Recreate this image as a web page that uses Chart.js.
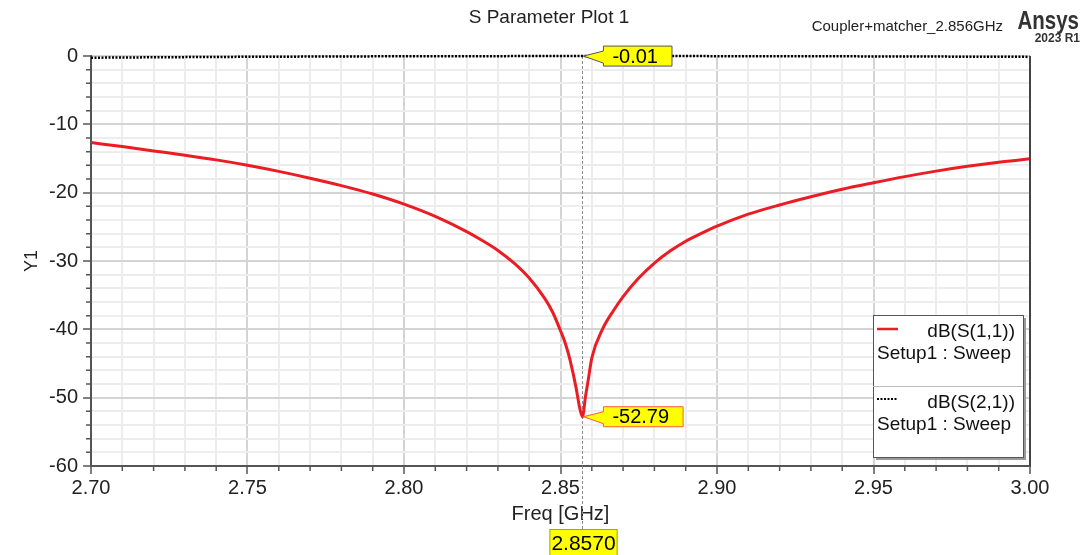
<!DOCTYPE html>
<html>
<head>
<meta charset="utf-8">
<title>S Parameter Plot 1</title>
<script src="https://cdn.jsdelivr.net/npm/chart.js@4.4.1/dist/chart.umd.min.js"></script>
<style>
  html, body { margin: 0; padding: 0; background: #fff; }
  canvas { display: block; }
</style>
</head>
<body>
<canvas id="plot" width="1091" height="555"></canvas>
<script>
const FONT = "Arial, 'Liberation Sans', sans-serif";

// dB(S(1,1))
const freq = [2.70, 2.71, 2.72, 2.73, 2.74, 2.75, 2.76, 2.77, 2.78, 2.79,
              2.80, 2.81, 2.82, 2.825, 2.83, 2.835, 2.84, 2.845, 2.8475, 2.85,
              2.8515, 2.853, 2.855, 2.856, 2.857, 2.858, 2.859, 2.86, 2.8635, 2.867,
              2.87, 2.875, 2.88, 2.885, 2.89, 2.895, 2.90, 2.91, 2.92, 2.93, 2.94,
              2.95, 2.96, 2.97, 2.98, 2.99, 3.00];
const s11 = [-12.67, -13.26, -13.89, -14.52, -15.2, -15.98, -16.88, -17.88, -18.97, -20.2,
             -21.68, -23.48, -25.7, -27.0, -28.45, -30.25, -32.5, -35.5, -37.5, -40.2,
             -42.0, -44.4, -48.6, -51.2, -52.79, -49.8, -47.0, -44.2, -39.9, -37.2,
             -35.2, -32.5, -30.3, -28.55, -27.1, -25.95, -24.9, -23.15, -21.8, -20.6, -19.5,
             -18.55, -17.65, -16.85, -16.15, -15.55, -15.05];

// dB(S(2,1)), hugging 0 dB
const freqS21 = [2.70, 2.72, 2.75, 2.78, 2.80, 2.83, 2.857, 2.88, 2.90, 2.93, 2.95, 2.98, 3.00];
const s21 = [-0.25, -0.19, -0.12, -0.07, -0.04, -0.02, -0.01, -0.01, -0.02, -0.04, -0.06, -0.10, -0.13];

// marker m1
const markerFreq = 2.857;
const markerFreqLabel = "2.8570";
const markerValues = [-0.01, -52.79];
const markerLabels = ["-0.01", "-52.79"];

const seriesNames = ["dB(S(1,1))", "dB(S(2,1))"];
const sweepName = "Setup1 : Sweep";

const isMajorX = v => Math.round(v * 100) % 5 === 0;
const isMajorY = v => Math.round(v) % 10 === 0;

function callout(ctx, px, py, text, border) {
  ctx.font = "20px " + FONT;
  const w = ctx.measureText(text).width + 23;
  const bx = px + 20, by = py - 10, bh = 20;
  ctx.beginPath();
  ctx.moveTo(px, py);
  ctx.lineTo(bx, by + 5);
  ctx.lineTo(bx, by);
  ctx.lineTo(bx + w, by);
  ctx.lineTo(bx + w, by + bh);
  ctx.lineTo(bx, by + bh);
  ctx.lineTo(bx, by + bh - 3);
  ctx.closePath();
  ctx.fillStyle = "#ffff00";
  ctx.fill();
  ctx.lineWidth = 1;
  ctx.strokeStyle = border;
  ctx.stroke();
  ctx.fillStyle = "#000";
  ctx.textAlign = "left";
  ctx.textBaseline = "middle";
  ctx.fillText(text, bx + 9, by + bh / 2 + 1);
}

const decorations = {
  id: "decorations",
  beforeDatasetsDraw(chart) {
    const { ctx, chartArea, scales } = chart;
    const x = Math.round(scales.x.getPixelForValue(markerFreq)) + 0.5;
    ctx.save();
    ctx.strokeStyle = "#8c8c8c";
    ctx.lineWidth = 1;
    ctx.setLineDash([3, 2]);
    ctx.beginPath();
    ctx.moveTo(x, chartArea.top);
    ctx.lineTo(x, 530);
    ctx.stroke();
    ctx.restore();
  },
  afterDatasetsDraw(chart) {
    const { ctx, chartArea, scales } = chart;
    const xs = scales.x, ys = scales.y;
    ctx.save();

    // short minor ticks
    ctx.strokeStyle = "#555";
    ctx.lineWidth = 1.5;
    ctx.beginPath();
    xs.ticks.forEach(t => {
      if (isMajorX(t.value)) return;
      const px = xs.getPixelForValue(t.value);
      ctx.moveTo(px, chartArea.bottom);
      ctx.lineTo(px, chartArea.bottom + 5);
    });
    ys.ticks.forEach(t => {
      if (isMajorY(t.value)) return;
      const py = ys.getPixelForValue(t.value);
      ctx.moveTo(chartArea.left, py);
      ctx.lineTo(chartArea.left - 5, py);
    });
    ctx.stroke();

    // right frame edge
    ctx.strokeStyle = "#444";
    ctx.lineWidth = 2;
    ctx.beginPath();
    ctx.moveTo(chartArea.right, chartArea.top);
    ctx.lineTo(chartArea.right, chartArea.bottom);
    ctx.stroke();

    // marker callouts
    const mx = xs.getPixelForValue(markerFreq);
    callout(ctx, mx + 1, ys.getPixelForValue(markerValues[0]), markerLabels[0], "#555");
    callout(ctx, mx + 1, ys.getPixelForValue(markerValues[1]), markerLabels[1], "#ff5a3c");

    // x marker label under the axis
    ctx.font = "21px " + FONT;
    const tw = ctx.measureText(markerFreqLabel).width;
    ctx.fillStyle = "#ffff00";
    ctx.fillRect(mx - 33, 529, tw + 4, 28);
    ctx.strokeStyle = "#a8a800";
    ctx.lineWidth = 1;
    ctx.strokeRect(mx - 32.5, 529.5, tw + 3, 30);
    ctx.fillStyle = "#000";
    ctx.textAlign = "left";
    ctx.textBaseline = "middle";
    ctx.fillText(markerFreqLabel, mx - 31, 544);

    // legend
    const lx = 873, ly = 315, lw = 150, lh = 142;
    ctx.fillStyle = "#9a9a9a";
    ctx.fillRect(lx + 3, ly + 3, lw, lh);
    ctx.fillStyle = "#fff";
    ctx.fillRect(lx, ly, lw, lh);
    ctx.strokeStyle = "#555";
    ctx.strokeRect(lx + 0.5, ly + 0.5, lw, lh);
    ctx.strokeStyle = "#bdbdbd";
    ctx.beginPath();
    ctx.moveTo(lx, 386.5);
    ctx.lineTo(lx + lw, 386.5);
    ctx.stroke();

    ctx.strokeStyle = chart.data.datasets[0].borderColor;
    ctx.lineWidth = 2.5;
    ctx.beginPath();
    ctx.moveTo(877, 329);
    ctx.lineTo(898, 329);
    ctx.stroke();
    ctx.strokeStyle = "#000";
    ctx.lineWidth = 2;
    ctx.setLineDash([2, 1.5]);
    ctx.beginPath();
    ctx.moveTo(877, 399);
    ctx.lineTo(898, 399);
    ctx.stroke();
    ctx.setLineDash([]);

    ctx.font = "19px " + FONT;
    ctx.fillStyle = "#111";
    ctx.textBaseline = "middle";
    ctx.textAlign = "right";
    ctx.fillText(seriesNames[0], 1015, 332);
    ctx.fillText(seriesNames[1], 1015, 403);
    ctx.textAlign = "left";
    ctx.fillText(sweepName, 877, 354);
    ctx.fillText(sweepName, 877, 425);

    // header texts
    ctx.fillStyle = "#222";
    ctx.textAlign = "center";
    ctx.font = "19px " + FONT;
    ctx.fillText("S Parameter Plot 1", 549, 18);
    ctx.textAlign = "right";
    ctx.font = "15px " + FONT;
    ctx.fillText("Coupler+matcher_2.856GHz", 1003, 27);
    ctx.save();
    ctx.translate(1079, 22);
    ctx.scale(0.82, 1);
    ctx.font = "bold 25px " + FONT;
    ctx.fillStyle = "#333";
    ctx.fillText("Ansys", 0, 0);
    ctx.restore();
    ctx.font = "bold 12px " + FONT;
    ctx.fillStyle = "#333";
    ctx.fillText("2023 R1", 1080, 39);

    ctx.restore();
  }
};

new Chart(document.getElementById("plot"), {
  type: "line",
  data: {
    datasets: [
      {
        label: seriesNames[0],
        data: freq.map((f, i) => ({ x: f, y: s11[i] })),
        borderColor: "rgb(235,28,36)",
        borderWidth: 3,
        pointRadius: 0,
        tension: 0.4,
        cubicInterpolationMode: "monotone"
      },
      {
        label: seriesNames[1],
        data: freqS21.map((f, i) => ({ x: f, y: s21[i] })),
        borderColor: "#000",
        borderWidth: 2.5,
        borderDash: [2, 1.5],
        pointRadius: 0,
        tension: 0.4,
        cubicInterpolationMode: "monotone",
        clip: 6
      }
    ]
  },
  options: {
    responsive: false,
    animation: false,
    devicePixelRatio: 1,
    layout: { padding: { top: 56, right: 61, left: 0, bottom: 0 } },
    plugins: { legend: { display: false }, title: { display: false }, tooltip: { enabled: false } },
    scales: {
      x: {
        type: "linear",
        min: 2.70,
        max: 3.00,
        afterFit: s => { s.height = 89; },
        ticks: {
          stepSize: 0.01,
          autoSkip: false,
          maxRotation: 0,
          padding: 2,
          color: "#222",
          font: { family: FONT, size: 20 },
          callback: v => isMajorX(v) ? v.toFixed(2) : ""
        },
        grid: {
          lineWidth: 2,
          tickLength: 8,
          color: c => isMajorX(c.tick.value) ? "#d4d4d4" : "#ededed",
          tickColor: c => isMajorX(c.tick.value) ? "#555" : "rgba(0,0,0,0)",
          tickWidth: 1.5
        },
        border: { color: "#555", width: 2 },
        title: {
          display: true,
          text: "Freq [GHz]",
          color: "#222",
          font: { family: FONT, size: 20 },
          padding: { top: 0, bottom: 29 }
        }
      },
      y: {
        min: -60,
        max: 0,
        afterFit: s => { s.width = 91; },
        ticks: {
          stepSize: 2,
          autoSkip: false,
          padding: 5,
          color: "#222",
          font: { family: FONT, size: 20 },
          callback: v => isMajorY(v) ? String(v) : ""
        },
        grid: {
          lineWidth: 2,
          tickLength: 8,
          color: c => isMajorY(c.tick.value) ? "#d4d4d4" : "#ededed",
          tickColor: c => isMajorY(c.tick.value) ? "#555" : "rgba(0,0,0,0)",
          tickWidth: 1.5
        },
        border: { color: "#555", width: 2 },
        title: {
          display: true,
          text: "Y1",
          color: "#222",
          font: { family: FONT, size: 18 },
          padding: { top: 21, bottom: 0 }
        }
      }
    }
  },
  plugins: [decorations]
});
</script>
</body>
</html>
